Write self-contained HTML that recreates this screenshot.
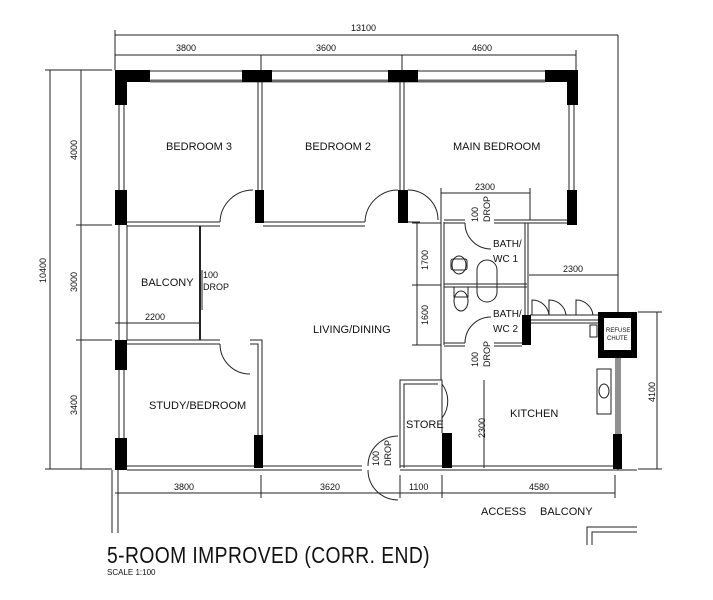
<!DOCTYPE html>
<html><head><meta charset="utf-8"><style>
html,body{margin:0;padding:0;background:#fff;width:713px;height:600px;overflow:hidden}
svg{display:block}
text{font-family:"Liberation Sans Narrow","Liberation Sans",sans-serif;fill:#111}
</style></head><body>
<svg width="713" height="600" viewBox="0 0 713 600" xmlns="http://www.w3.org/2000/svg">
<g stroke="#222" stroke-width="1" fill="none">
<line x1="115" y1="35" x2="618" y2="35"/>
<line x1="618" y1="35" x2="618" y2="470"/>
<line x1="115" y1="30" x2="115" y2="70"/>
<line x1="115" y1="55" x2="576" y2="55"/>
<line x1="261" y1="55" x2="261" y2="70"/><line x1="402" y1="55" x2="402" y2="70"/><line x1="576" y1="50" x2="576" y2="70"/>
<line x1="45" y1="70" x2="112" y2="70"/>
<line x1="50" y1="70" x2="50" y2="469"/>
<line x1="81" y1="70" x2="81" y2="469"/>
<line x1="45" y1="469" x2="112" y2="469"/>
<line x1="76" y1="225" x2="112" y2="225"/>
<line x1="76" y1="340" x2="112" y2="340"/>
<line x1="115" y1="493" x2="615" y2="493"/>
<line x1="261" y1="475" x2="261" y2="498"/><line x1="400" y1="475" x2="400" y2="498"/><line x1="442" y1="475" x2="442" y2="498"/><line x1="615" y1="475" x2="615" y2="498"/>
<line x1="112" y1="470" x2="112" y2="533"/><line x1="118" y1="470" x2="118" y2="533"/>
<line x1="657" y1="312" x2="657" y2="469"/><line x1="638" y1="312" x2="662" y2="312"/><line x1="638" y1="469" x2="662" y2="469"/>
<line x1="417" y1="223" x2="417" y2="345"/><line x1="412" y1="285" x2="441" y2="285"/><line x1="412" y1="223" x2="441" y2="223"/><line x1="412" y1="345" x2="441" y2="345"/>
<line x1="441" y1="193" x2="530" y2="193"/><line x1="441" y1="188" x2="441" y2="220"/><line x1="530" y1="188" x2="530" y2="220"/>
<line x1="529" y1="275" x2="618" y2="275"/>
<line x1="484" y1="380" x2="484" y2="468"/>
<line x1="115" y1="323" x2="200" y2="323"/>
<path d="M587 545 V527 H637 M592 545 V532 H637"/>
<line x1="127" y1="71" x2="566" y2="71"/>
<line x1="150" y1="81" x2="545" y2="81" stroke-width="3" stroke="#666"/>
<line x1="119" y1="105" x2="119" y2="190"/><line x1="124" y1="105" x2="124" y2="190"/>
<line x1="119" y1="225" x2="119" y2="340"/><line x1="127" y1="225" x2="127" y2="340"/>
<line x1="119" y1="370" x2="119" y2="438"/><line x1="124" y1="370" x2="124" y2="438"/>
<line x1="569" y1="105" x2="569" y2="190"/><line x1="574" y1="105" x2="574" y2="190"/>
<path d="M258 81 V190 M262 81 V190"/>
<path d="M400 81 V190 M404 81 V190"/>
<path d="M127 222 H220 M127 226 H220"/>
<path d="M263 222 H365 M263 226 H365"/>
<path d="M408 222 H420"/>
<path d="M200 226 V340" stroke-width="2"/>
<path d="M127 340 H220 M127 344 H220"/>
<path d="M250 340 H262 V435 M250 344 H258 V435"/>
<path d="M127 466 H362 M127 470 H362"/>
<path d="M400 466 H614 M400 470 H637"/>
<path d="M400 468 V380 H442 V433 M404 468 V384 H438"/>
<path d="M441 220 V380 M444 222 V345"/>
<path d="M444 220 H465 M494 220 H570 M444 223 H465 M494 223 H567"/>
<path d="M444 284 H527 M444 287 H527"/>
<path d="M444 343 H465 M494 343 H522 M444 346 H465 M494 346 H522"/>
<path d="M525 223 V315 M528 223 V315"/>
<path d="M530 315 H598 M530 320 H598 M530 323 H598"/>
<path d="M616 358 V434 M620 358 V434"/>
<path d="M220 222 A33 33 0 0 1 253 190"/>
<path d="M365 222 A33 33 0 0 1 398 190"/>
<path d="M408 190 A30 30 0 0 1 438 220"/>
<path d="M465 223 A26 26 0 0 0 491 249"/>
<path d="M465 343 A26 26 0 0 1 491 317"/>
<path d="M220 344 A30 30 0 0 0 250 374"/>
<path d="M442 384 A28 28 0 0 1 442 418"/>
<path d="M398 436 A30 30 0 0 0 368 466"/>
<path d="M398 500 A30 30 0 0 1 368 470"/>
<path d="M532 315 V300 A17 17 0 0 1 549 315"/>
<path d="M549 315 V300 A17 17 0 0 1 566 315"/>
<path d="M576 315 V300 A17 17 0 0 1 593 315"/>
<path d="M202 270 V310"/>
<rect x="451" y="259" width="16" height="11" rx="2"/><ellipse cx="459" cy="265" rx="7" ry="9"/>
<ellipse cx="461" cy="301" rx="7" ry="10"/><rect x="454" y="287" width="14" height="10"/>
<path d="M477 270 a10 10 0 0 1 20 0 v22 a10 10 0 0 1 -20 0z"/>
<rect x="597" y="369" width="14" height="45"/>
<ellipse cx="604" cy="391" rx="5" ry="7"/>
<rect x="590" y="325" width="7" height="12"/>
</g>
<g fill="#000">
<rect x="115" y="70" width="35" height="12"/><rect x="115" y="70" width="12" height="35"/>
<rect x="242" y="70" width="30" height="12"/>
<rect x="388" y="70" width="30" height="12"/>
<rect x="545" y="70" width="33" height="12"/><rect x="567" y="70" width="11" height="35"/>
<rect x="567" y="190" width="10" height="35"/>
<rect x="115" y="190" width="12" height="35"/>
<rect x="255" y="190" width="9" height="33"/>
<rect x="398" y="190" width="10" height="33"/>
<rect x="115" y="340" width="12" height="30"/>
<rect x="115" y="438" width="12" height="32"/>
<rect x="254" y="435" width="9" height="33"/>
<rect x="442" y="433" width="10" height="35"/>
<rect x="613" y="434" width="9" height="35"/>
<rect x="522" y="315" width="9" height="30"/>
<rect x="598" y="312" width="39" height="46"/>
</g>
<rect x="604" y="318" width="27" height="32" fill="#fff"/>
<g font-size="11">
<text x="166" y="150">BEDROOM 3</text>
<text x="305" y="150">BEDROOM 2</text>
<text x="453" y="150">MAIN BEDROOM</text>
<text x="141" y="286">BALCONY</text>
<text x="313" y="333">LIVING/DINING</text>
<text x="149" y="409">STUDY/BEDROOM</text>
<text x="406" y="428">STORE</text>
<text x="510" y="417">KITCHEN</text>
<text x="494" y="413" font-size="0"> </text>
</g>
<g font-size="10">
<text x="493" y="247">BATH/</text><text x="493" y="262">WC 1</text>
<text x="493" y="317">BATH/</text><text x="493" y="332">WC 2</text>
</g>
<g font-size="11"><text x="481" y="515">ACCESS</text><text x="540" y="515">BALCONY</text></g>
<g font-size="9">
<text x="351" y="31">13100</text>
<text x="176" y="51">3800</text><text x="316" y="51">3600</text><text x="472" y="51">4600</text>
<text x="475" y="190">2300</text>
<text x="563" y="272">2300</text>
<text x="145" y="320">2200</text>
<text x="174" y="490">3800</text><text x="320" y="490">3620</text><text x="409" y="490">1100</text><text x="529" y="490">4580</text>
<text x="203" y="278">100</text><text x="203" y="290">DROP</text>
<text x="606" y="332" font-size="6">REFUSE</text><text x="607" y="340" font-size="6">CHUTE</text>
<text x="107" y="575" font-size="8">SCALE   1:100</text>
</g>
<g font-size="9">
<text transform="translate(46,283) rotate(-90)">10400</text>
<text transform="translate(77,160) rotate(-90)">4000</text>
<text transform="translate(77,292) rotate(-90)">3000</text>
<text transform="translate(77,415) rotate(-90)">3400</text>
<text transform="translate(428,270) rotate(-90)">1700</text>
<text transform="translate(428,325) rotate(-90)">1600</text>
<text transform="translate(485,438) rotate(-90)">2300</text>
<text transform="translate(655,402) rotate(-90)">4100</text>
<text transform="translate(478,222) rotate(-90)">100</text><text transform="translate(490,222) rotate(-90)">DROP</text>
<text transform="translate(478,367) rotate(-90)">100</text><text transform="translate(490,367) rotate(-90)">DROP</text>
<text transform="translate(379,466) rotate(-90)">100</text><text transform="translate(391,466) rotate(-90)">DROP</text>
</g>
<text x="107" y="563" font-size="23" style="letter-spacing:0.5px" textLength="323" lengthAdjust="spacingAndGlyphs">5-ROOM IMPROVED (CORR. END)</text>
</svg>
</body></html>
